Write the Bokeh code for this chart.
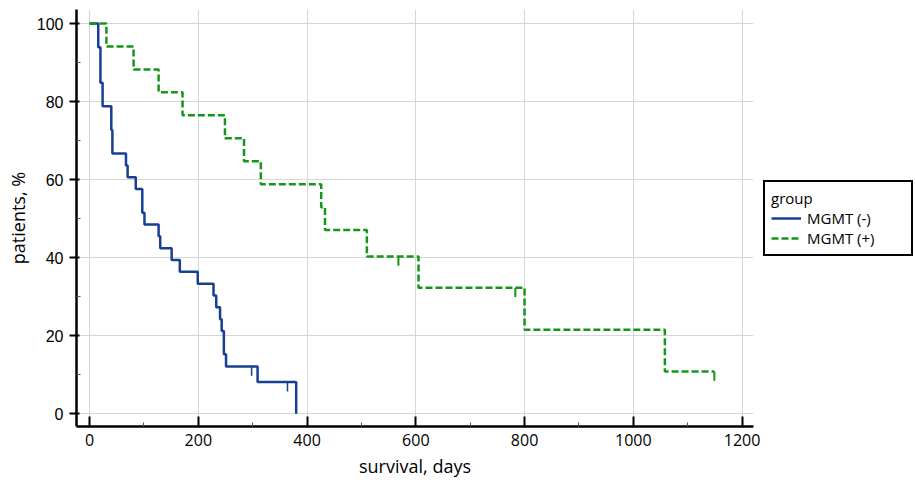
from bokeh.plotting import figure
from bokeh.models import Range1d, FixedTicker, Legend, LegendItem
from bokeh.embed import file_html
from bokeh.resources import INLINE

# MGMT (-) Kaplan-Meier estimate (days, % surviving)
neg_days = [0, 16, 20, 24, 40, 42, 67, 70, 85, 97, 101, 127, 130, 151, 166, 199,
            228, 233, 240, 243, 247, 251, 309, 380]
neg_surv = [100, 93.9, 84.8, 78.8, 72.7, 66.7, 63.6, 60.6, 57.6, 51.5, 48.5, 45.5,
            42.4, 39.4, 36.4, 33.3, 30.3, 27.3, 24.2, 21.2, 15.2, 12.1, 8.1, 0]
neg_cens_days = [298, 364]
neg_cens_surv = [12.1, 8.1]

# MGMT (+) Kaplan-Meier estimate
pos_days = [0, 31, 81, 127, 171, 249, 284, 315, 426, 433, 510, 605, 800, 1058, 1149]
pos_surv = [100, 94.1, 88.2, 82.4, 76.5, 70.6, 64.7, 58.8, 52.9, 47.1, 40.3, 32.3,
            21.5, 10.8, 10.8]
pos_cens_days = [568, 783, 1149]
pos_cens_surv = [40.3, 32.3, 10.8]

x_ticks = [0, 200, 400, 600, 800, 1000, 1200]
x_minor = [100, 300, 500, 700, 900, 1100]
y_ticks = [0, 20, 40, 60, 80, 100]
y_minor = [10, 30, 50, 70, 90]

BLUE = "#163f95"
GREEN = "#15961a"
CENS = 2.4

p = figure(frame_width=677, frame_height=417,
           x_range=Range1d(-24, 1221), y_range=Range1d(-3.3, 103.6),
           output_backend="svg", toolbar_location=None,
           min_border_left=76, min_border_top=9, min_border_bottom=55, min_border_right=0)
p.outline_line_color = None
p.background_fill_color = "white"

r1 = p.step(neg_days, neg_surv, mode="after", line_color=BLUE, line_width=2.5)
p.segment(x0=neg_cens_days, y0=neg_cens_surv, x1=neg_cens_days,
          y1=[s - CENS for s in neg_cens_surv], line_color=BLUE, line_width=1.5)
r2 = p.step(pos_days, pos_surv, mode="after", line_color=GREEN, line_width=2.5, line_dash="7 3")
p.segment(x0=pos_cens_days, y0=pos_cens_surv, x1=pos_cens_days,
          y1=[s - CENS for s in pos_cens_surv], line_color=GREEN, line_width=2)

p.xaxis.ticker = FixedTicker(ticks=x_ticks, minor_ticks=x_minor)
p.yaxis.ticker = FixedTicker(ticks=y_ticks, minor_ticks=y_minor)

for ax in (p.xaxis[0], p.yaxis[0]):
    ax.axis_line_color = "black"
    ax.axis_line_width = 2.5
    ax.major_tick_line_color = "black"
    ax.major_tick_line_width = 2
    ax.minor_tick_line_color = "#555555"
    ax.minor_tick_line_width = 1
    ax.major_label_text_color = "black"
    ax.axis_label_text_font = "Open Sans"
    ax.axis_label_text_font_style = "normal"
    ax.axis_label_text_color = "black"
    ax.axis_label_text_font_size = "18px"

p.xaxis.axis_label = "survival, days"
p.xaxis.major_tick_in = 10
p.xaxis.major_tick_out = 0
p.xaxis.minor_tick_in = 4
p.xaxis.minor_tick_out = 0
p.xaxis.major_label_text_font = "Open Sans"
p.xaxis.major_label_text_font_size = "16px"
p.xaxis.major_label_standoff = 7
p.xaxis.axis_label_standoff = 5

p.yaxis.axis_label = "patients, %"
p.yaxis.major_tick_in = 3
p.yaxis.major_tick_out = 7
p.yaxis.minor_tick_in = 4
p.yaxis.minor_tick_out = 0
p.yaxis.major_label_text_font = "Liberation Sans"
p.yaxis.major_label_text_font_size = "16px"
p.yaxis.major_label_standoff = 6
p.yaxis.axis_label_standoff = 4

p.xgrid.ticker = FixedTicker(ticks=x_ticks)
p.ygrid.ticker = FixedTicker(ticks=y_ticks)
p.grid.grid_line_color = "#d6d6d6"
p.grid.grid_line_width = 1

legend = Legend(items=[LegendItem(label="MGMT (-)", renderers=[r1]),
                       LegendItem(label="MGMT (+)", renderers=[r2])],
                title="group", location="left")
legend.title_text_font = "Open Sans"
legend.title_text_font_size = "15px"
legend.title_text_font_style = "normal"
legend.title_text_color = "black"
legend.title_standoff = 0
legend.label_text_font = "Open Sans"
legend.label_text_font_size = "15px"
legend.label_text_color = "black"
legend.border_line_color = "black"
legend.border_line_width = 2
legend.border_line_alpha = 1
legend.padding = 6
legend.margin = 10
legend.spacing = 0
legend.glyph_width = 30
legend.glyph_height = 18
legend.label_height = 18
legend.label_standoff = 6
legend.label_width = 98
p.add_layout(legend, "right")

open("out.html", "w").write(file_html(p, INLINE))
